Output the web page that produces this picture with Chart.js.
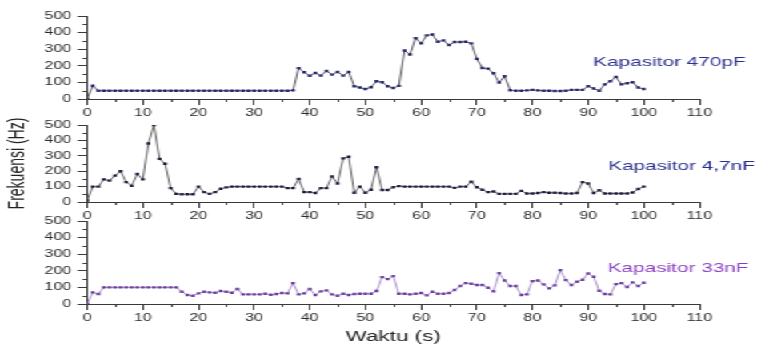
<!DOCTYPE html>
<html>
<head>
<meta charset="utf-8">
<script src="https://cdn.jsdelivr.net/npm/chart.js@4.4.1/dist/chart.umd.min.js"></script>
<style>
  html, body { margin: 0; padding: 0; background: #ffffff; overflow: hidden; }
  #wrap { position: absolute; left: 0; top: 0; width: 473px; height: 349px; transform: scaleX(1.6004); transform-origin: 0 0; }
  #wrap canvas { position: absolute; left: 0; top: 0; }
</style>
</head>
<body>
<div id="wrap">
  <canvas id="c1" width="473" height="349"></canvas>
  <canvas id="c2" width="473" height="349"></canvas>
  <canvas id="c3" width="473" height="349"></canvas>
</div>
<script>
// ---- data (time in seconds, frequency in Hz) ----
const waktu = [0,1,2,3,4,5,6,7,8,9,10,11,12,13,14,15,16,17,18,19,20,21,22,23,24,25,26,27,28,29,30,31,32,33,34,35,36,37,38,39,40,41,42,43,44,45,46,47,48,49,50,51,52,53,54,55,56,57,58,59,60,61,62,63,64,65,66,67,68,69,70,71,72,73,74,75,76,77,78,79,80,81,82,83,84,85,86,87,88,89,90,91,92,93,94,95,96,97,98,99,100];

const kap470pF = [0,80,50,50,50,50,50,50,50,50,50,50,50,50,50,50,50,50,50,50,50,50,50,50,50,50,50,50,50,50,50,50,50,50,50,50,50,52,186,161,140,157,141,169,147,163,141,163,77,69,60,71,107,101,77,66,79,292,268,367,335,383,389,345,353,325,343,343,345,335,242,187,183,155,99,137,53,50,50,52,55,52,50,50,48,48,50,55,55,55,77,63,50,88,107,133,88,95,101,69,60];

const kap4_7nF = [10,100,100,147,139,171,200,129,105,182,147,380,500,280,248,90,53,50,50,50,100,64,53,64,86,95,100,100,100,100,100,100,100,100,100,100,90,90,150,64,64,58,90,90,166,120,283,294,60,100,60,80,226,78,78,96,103,100,100,100,100,100,100,100,100,100,92,100,100,131,96,80,64,68,53,53,53,53,72,55,55,58,64,60,60,58,55,55,58,129,120,58,76,55,55,55,55,55,62,84,100];

const kap33nF = [0,70,60,100,100,100,100,100,100,100,100,100,100,100,100,100,100,74,54,50,64,74,70,68,78,74,68,90,58,58,58,58,62,56,60,66,64,126,58,64,90,54,76,82,58,50,62,54,60,62,62,62,78,162,150,168,62,62,58,62,66,52,74,62,62,66,84,108,126,122,114,114,98,76,186,142,108,108,54,58,138,142,118,94,112,204,144,114,134,146,184,164,80,60,58,120,126,102,130,108,128];

const seriesNames = ["Kapasitor 470pF", "Kapasitor 4,7nF", "Kapasitor 33nF"];
const xTicks = [0,10,20,30,40,50,60,70,80,90,100,110];
const xMinor = [5,15,25,35,45,55,65,75,85,95,105];
const yTicks = [0,100,200,300,400,500];
const yMinor = [50,150,250,350,450];

// ---- style ----
const AXIS = '#3a3a3a';
const FONT = '"Liberation Sans", Arial, Helvetica, sans-serif';
Chart.defaults.font.family = FONT;
Chart.defaults.color = '#2a2a2a';

const decor = {
  id: 'decor',
  afterDraw(chart, args, opts) {
    const ctx = chart.ctx;
    const x = chart.scales.x, y = chart.scales.y;
    ctx.save();
    ctx.strokeStyle = AXIS;
    ctx.lineWidth = 1;
    ctx.beginPath();
    for (const v of xMinor) {
      const px = Math.round(x.getPixelForValue(v)) + 0.5;
      ctx.moveTo(px, y.bottom); ctx.lineTo(px, y.bottom + 3);
    }
    for (const v of yMinor) {
      const py = Math.round(y.getPixelForValue(v)) + 0.5;
      ctx.moveTo(x.left - 3, py); ctx.lineTo(x.left, py);
    }
    ctx.stroke();
    ctx.fillStyle = opts.color;
    ctx.font = '13px ' + FONT;
    ctx.textBaseline = 'middle';
    ctx.textAlign = 'left';
    ctx.fillText(opts.text, x.getPixelForValue(opts.at[0]), y.getPixelForValue(opts.at[1]));
    ctx.restore();
  }
};

function makeChart(id, values, cfg) {
  const pts = waktu.map((t, i) => ({ x: t, y: values[i] }));
  return new Chart(document.getElementById(id), {
    type: 'line',
    data: {
      datasets: [{
        label: cfg.name,
        data: pts,
        borderColor: cfg.line,
        borderWidth: 0.9,
        pointStyle: 'rect',
        pointRadius: 1.7,
        pointBorderWidth: 0,
        pointBackgroundColor: cfg.marker,
        pointBorderColor: cfg.marker,
        tension: 0
      }]
    },
    options: {
      responsive: false,
      devicePixelRatio: 1,
      animation: false,
      events: [],
      layout: { padding: { left: 0, right: 36, top: cfg.top, bottom: cfg.bottom } },
      plugins: {
        legend: { display: false },
        tooltip: { enabled: false },
        decor: { text: cfg.name, color: cfg.textColor, at: cfg.labelAt }
      },
      scales: {
        x: {
          type: 'linear', min: 0, max: 110,
          afterBuildTicks: s => { s.ticks = xTicks.map(v => ({ value: v })); },
          afterFit: s => { s.height = cfg.xHeight; },
          ticks: { font: { size: 10 }, padding: 2, color: '#2a2a2a', maxRotation: 0 },
          grid: { display: true, drawOnChartArea: false, drawTicks: true, tickLength: 6, tickColor: AXIS },
          border: { display: true, color: AXIS, width: 1 },
          title: cfg.xTitle ? { display: true, text: 'Waktu (s)', font: { size: 14 }, color: '#222', padding: { top: 0, bottom: 2 } } : { display: false }
        },
        y: {
          type: 'linear', min: 0, max: 500,
          afterBuildTicks: s => { s.ticks = yTicks.map(v => ({ value: v })); },
          afterFit: s => { s.width = 54.5; },
          ticks: { font: { size: 10 }, padding: 4, color: '#2a2a2a' },
          grid: { display: true, drawOnChartArea: false, drawTicks: true, tickLength: 6, tickColor: AXIS },
          border: { display: true, color: AXIS, width: 1 },
          title: cfg.yTitle ? { display: true, text: 'Frekuensi (Hz)', font: { size: 14 }, color: '#222', padding: { top: 3, bottom: 0 } } : { display: false }
        }
      }
    },
    plugins: [decor]
  });
}

makeChart('c1', kap470pF, {
  name: seriesNames[0], line: '#4a4a55', marker: '#26266e', textColor: '#2b2f8c',
  top: 16, bottom: 230, xHeight: 20, labelAt: [90.9, 222]
});
makeChart('c2', kap4_7nF, {
  name: seriesNames[1], line: '#555555', marker: '#1c1c40', textColor: '#2b2f8c',
  top: 125, bottom: 127, xHeight: 20, labelAt: [93.6, 234], yTitle: true
});
makeChart('c3', kap33nF, {
  name: seriesNames[2], line: '#a486c8', marker: '#6a3e9e', textColor: '#8a3ec4',
  top: 221, bottom: 1, xHeight: 44, labelAt: [93.5, 216], xTitle: true
});
</script>
</body>
</html>
